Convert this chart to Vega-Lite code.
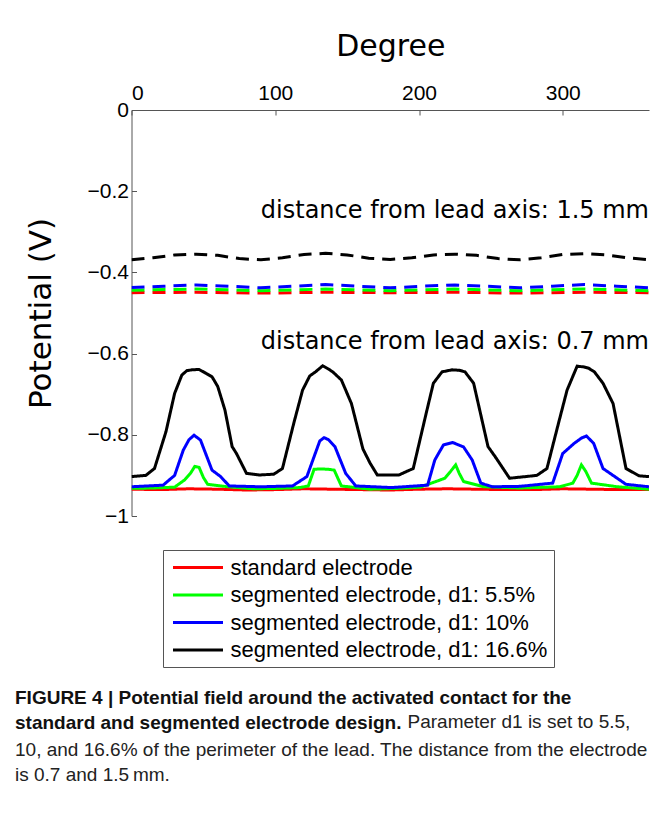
{
  "$schema": "https://vega.github.io/schema/vega-lite/v6.json",
  "autosize": "none",
  "width": 517.5,
  "height": 406,
  "padding": {"left": 131.5, "top": 110, "right": 12, "bottom": 300},
  "background": "white",
  "title": {
    "text": ["FIGURE 4 | Potential field around the activated contact for the", "standard and segmented electrode design."],
    "subtitle": ["10, and 16.6% of the perimeter of the lead. The distance from the electrode", "is 0.7 and 1.5\u2009mm."],
    "orient": "bottom",
    "anchor": "start",
    "frame": "group",
    "offset": -43,
    "dx": -116.5,
    "font": "Liberation Sans",
    "fontSize": 19,
    "fontWeight": "bold",
    "color": "#111",
    "lineHeight": 25.5,
    "subtitleFont": "Liberation Sans",
    "subtitleFontSize": 19,
    "subtitleColor": "#222",
    "subtitleLineHeight": 25.5,
    "subtitlePadding": 7.5
  },
  "datasets": {
    "curves": [
      {"degree": 0, "potential": -0.450, "series": "standard electrode", "distance": "1.5 mm"},
      {"degree": 45, "potential": -0.449, "series": "standard electrode", "distance": "1.5 mm"},
      {"degree": 90, "potential": -0.451, "series": "standard electrode", "distance": "1.5 mm"},
      {"degree": 135, "potential": -0.449, "series": "standard electrode", "distance": "1.5 mm"},
      {"degree": 180, "potential": -0.450, "series": "standard electrode", "distance": "1.5 mm"},
      {"degree": 225, "potential": -0.449, "series": "standard electrode", "distance": "1.5 mm"},
      {"degree": 270, "potential": -0.451, "series": "standard electrode", "distance": "1.5 mm"},
      {"degree": 315, "potential": -0.449, "series": "standard electrode", "distance": "1.5 mm"},
      {"degree": 360, "potential": -0.450, "series": "standard electrode", "distance": "1.5 mm"},

      {"degree": 0, "potential": -0.934, "series": "standard electrode", "distance": "0.7 mm"},
      {"degree": 20, "potential": -0.935, "series": "standard electrode", "distance": "0.7 mm"},
      {"degree": 40, "potential": -0.933, "series": "standard electrode", "distance": "0.7 mm"},
      {"degree": 60, "potential": -0.934, "series": "standard electrode", "distance": "0.7 mm"},
      {"degree": 80, "potential": -0.936, "series": "standard electrode", "distance": "0.7 mm"},
      {"degree": 100, "potential": -0.935, "series": "standard electrode", "distance": "0.7 mm"},
      {"degree": 120, "potential": -0.933, "series": "standard electrode", "distance": "0.7 mm"},
      {"degree": 140, "potential": -0.934, "series": "standard electrode", "distance": "0.7 mm"},
      {"degree": 160, "potential": -0.935, "series": "standard electrode", "distance": "0.7 mm"},
      {"degree": 180, "potential": -0.936, "series": "standard electrode", "distance": "0.7 mm"},
      {"degree": 200, "potential": -0.934, "series": "standard electrode", "distance": "0.7 mm"},
      {"degree": 220, "potential": -0.933, "series": "standard electrode", "distance": "0.7 mm"},
      {"degree": 240, "potential": -0.934, "series": "standard electrode", "distance": "0.7 mm"},
      {"degree": 260, "potential": -0.935, "series": "standard electrode", "distance": "0.7 mm"},
      {"degree": 280, "potential": -0.935, "series": "standard electrode", "distance": "0.7 mm"},
      {"degree": 300, "potential": -0.933, "series": "standard electrode", "distance": "0.7 mm"},
      {"degree": 320, "potential": -0.934, "series": "standard electrode", "distance": "0.7 mm"},
      {"degree": 340, "potential": -0.935, "series": "standard electrode", "distance": "0.7 mm"},
      {"degree": 360, "potential": -0.935, "series": "standard electrode", "distance": "0.7 mm"},

      {"degree": 0, "potential": -0.444, "series": "segmented electrode, d1: 5.5%", "distance": "1.5 mm"},
      {"degree": 45, "potential": -0.441, "series": "segmented electrode, d1: 5.5%", "distance": "1.5 mm"},
      {"degree": 90, "potential": -0.445, "series": "segmented electrode, d1: 5.5%", "distance": "1.5 mm"},
      {"degree": 135, "potential": -0.441, "series": "segmented electrode, d1: 5.5%", "distance": "1.5 mm"},
      {"degree": 180, "potential": -0.445, "series": "segmented electrode, d1: 5.5%", "distance": "1.5 mm"},
      {"degree": 225, "potential": -0.441, "series": "segmented electrode, d1: 5.5%", "distance": "1.5 mm"},
      {"degree": 270, "potential": -0.445, "series": "segmented electrode, d1: 5.5%", "distance": "1.5 mm"},
      {"degree": 315, "potential": -0.441, "series": "segmented electrode, d1: 5.5%", "distance": "1.5 mm"},
      {"degree": 360, "potential": -0.445, "series": "segmented electrode, d1: 5.5%", "distance": "1.5 mm"},

      {"degree": 0, "potential": -0.932, "series": "segmented electrode, d1: 5.5%", "distance": "0.7 mm"},
      {"degree": 15, "potential": -0.931, "series": "segmented electrode, d1: 5.5%", "distance": "0.7 mm"},
      {"degree": 30, "potential": -0.929, "series": "segmented electrode, d1: 5.5%", "distance": "0.7 mm"},
      {"degree": 37, "potential": -0.911, "series": "segmented electrode, d1: 5.5%", "distance": "0.7 mm"},
      {"degree": 41, "potential": -0.895, "series": "segmented electrode, d1: 5.5%", "distance": "0.7 mm"},
      {"degree": 44, "potential": -0.878, "series": "segmented electrode, d1: 5.5%", "distance": "0.7 mm"},
      {"degree": 47, "potential": -0.880, "series": "segmented electrode, d1: 5.5%", "distance": "0.7 mm"},
      {"degree": 50, "potential": -0.905, "series": "segmented electrode, d1: 5.5%", "distance": "0.7 mm"},
      {"degree": 53, "potential": -0.922, "series": "segmented electrode, d1: 5.5%", "distance": "0.7 mm"},
      {"degree": 67, "potential": -0.928, "series": "segmented electrode, d1: 5.5%", "distance": "0.7 mm"},
      {"degree": 85, "potential": -0.933, "series": "segmented electrode, d1: 5.5%", "distance": "0.7 mm"},
      {"degree": 100, "potential": -0.932, "series": "segmented electrode, d1: 5.5%", "distance": "0.7 mm"},
      {"degree": 117, "potential": -0.930, "series": "segmented electrode, d1: 5.5%", "distance": "0.7 mm"},
      {"degree": 123, "potential": -0.926, "series": "segmented electrode, d1: 5.5%", "distance": "0.7 mm"},
      {"degree": 127, "potential": -0.885, "series": "segmented electrode, d1: 5.5%", "distance": "0.7 mm"},
      {"degree": 132, "potential": -0.884, "series": "segmented electrode, d1: 5.5%", "distance": "0.7 mm"},
      {"degree": 137, "potential": -0.885, "series": "segmented electrode, d1: 5.5%", "distance": "0.7 mm"},
      {"degree": 141, "potential": -0.887, "series": "segmented electrode, d1: 5.5%", "distance": "0.7 mm"},
      {"degree": 146, "potential": -0.926, "series": "segmented electrode, d1: 5.5%", "distance": "0.7 mm"},
      {"degree": 166, "potential": -0.934, "series": "segmented electrode, d1: 5.5%", "distance": "0.7 mm"},
      {"degree": 185, "potential": -0.932, "series": "segmented electrode, d1: 5.5%", "distance": "0.7 mm"},
      {"degree": 201, "potential": -0.929, "series": "segmented electrode, d1: 5.5%", "distance": "0.7 mm"},
      {"degree": 218, "potential": -0.907, "series": "segmented electrode, d1: 5.5%", "distance": "0.7 mm"},
      {"degree": 222, "potential": -0.890, "series": "segmented electrode, d1: 5.5%", "distance": "0.7 mm"},
      {"degree": 225.5, "potential": -0.874, "series": "segmented electrode, d1: 5.5%", "distance": "0.7 mm"},
      {"degree": 228, "potential": -0.895, "series": "segmented electrode, d1: 5.5%", "distance": "0.7 mm"},
      {"degree": 231, "potential": -0.915, "series": "segmented electrode, d1: 5.5%", "distance": "0.7 mm"},
      {"degree": 245, "potential": -0.928, "series": "segmented electrode, d1: 5.5%", "distance": "0.7 mm"},
      {"degree": 270, "potential": -0.931, "series": "segmented electrode, d1: 5.5%", "distance": "0.7 mm"},
      {"degree": 298, "potential": -0.928, "series": "segmented electrode, d1: 5.5%", "distance": "0.7 mm"},
      {"degree": 307, "potential": -0.919, "series": "segmented electrode, d1: 5.5%", "distance": "0.7 mm"},
      {"degree": 310, "potential": -0.900, "series": "segmented electrode, d1: 5.5%", "distance": "0.7 mm"},
      {"degree": 313, "potential": -0.874, "series": "segmented electrode, d1: 5.5%", "distance": "0.7 mm"},
      {"degree": 316, "potential": -0.890, "series": "segmented electrode, d1: 5.5%", "distance": "0.7 mm"},
      {"degree": 320, "potential": -0.919, "series": "segmented electrode, d1: 5.5%", "distance": "0.7 mm"},
      {"degree": 338, "potential": -0.928, "series": "segmented electrode, d1: 5.5%", "distance": "0.7 mm"},
      {"degree": 360, "potential": -0.934, "series": "segmented electrode, d1: 5.5%", "distance": "0.7 mm"},

      {"degree": 0, "potential": -0.437, "series": "segmented electrode, d1: 10%", "distance": "1.5 mm"},
      {"degree": 22.5, "potential": -0.434, "series": "segmented electrode, d1: 10%", "distance": "1.5 mm"},
      {"degree": 45, "potential": -0.431, "series": "segmented electrode, d1: 10%", "distance": "1.5 mm"},
      {"degree": 67.5, "potential": -0.434, "series": "segmented electrode, d1: 10%", "distance": "1.5 mm"},
      {"degree": 90, "potential": -0.438, "series": "segmented electrode, d1: 10%", "distance": "1.5 mm"},
      {"degree": 112.5, "potential": -0.434, "series": "segmented electrode, d1: 10%", "distance": "1.5 mm"},
      {"degree": 135, "potential": -0.430, "series": "segmented electrode, d1: 10%", "distance": "1.5 mm"},
      {"degree": 157.5, "potential": -0.434, "series": "segmented electrode, d1: 10%", "distance": "1.5 mm"},
      {"degree": 180, "potential": -0.438, "series": "segmented electrode, d1: 10%", "distance": "1.5 mm"},
      {"degree": 202.5, "potential": -0.434, "series": "segmented electrode, d1: 10%", "distance": "1.5 mm"},
      {"degree": 225, "potential": -0.431, "series": "segmented electrode, d1: 10%", "distance": "1.5 mm"},
      {"degree": 247.5, "potential": -0.434, "series": "segmented electrode, d1: 10%", "distance": "1.5 mm"},
      {"degree": 270, "potential": -0.438, "series": "segmented electrode, d1: 10%", "distance": "1.5 mm"},
      {"degree": 292.5, "potential": -0.434, "series": "segmented electrode, d1: 10%", "distance": "1.5 mm"},
      {"degree": 315, "potential": -0.430, "series": "segmented electrode, d1: 10%", "distance": "1.5 mm"},
      {"degree": 337.5, "potential": -0.434, "series": "segmented electrode, d1: 10%", "distance": "1.5 mm"},
      {"degree": 360, "potential": -0.438, "series": "segmented electrode, d1: 10%", "distance": "1.5 mm"},

      {"degree": 0, "potential": -0.928, "series": "segmented electrode, d1: 10%", "distance": "0.7 mm"},
      {"degree": 22, "potential": -0.924, "series": "segmented electrode, d1: 10%", "distance": "0.7 mm"},
      {"degree": 30, "potential": -0.900, "series": "segmented electrode, d1: 10%", "distance": "0.7 mm"},
      {"degree": 36, "potential": -0.838, "series": "segmented electrode, d1: 10%", "distance": "0.7 mm"},
      {"degree": 40, "potential": -0.812, "series": "segmented electrode, d1: 10%", "distance": "0.7 mm"},
      {"degree": 43.5, "potential": -0.801, "series": "segmented electrode, d1: 10%", "distance": "0.7 mm"},
      {"degree": 48, "potential": -0.813, "series": "segmented electrode, d1: 10%", "distance": "0.7 mm"},
      {"degree": 52, "potential": -0.850, "series": "segmented electrode, d1: 10%", "distance": "0.7 mm"},
      {"degree": 56, "potential": -0.887, "series": "segmented electrode, d1: 10%", "distance": "0.7 mm"},
      {"degree": 62, "potential": -0.903, "series": "segmented electrode, d1: 10%", "distance": "0.7 mm"},
      {"degree": 68, "potential": -0.926, "series": "segmented electrode, d1: 10%", "distance": "0.7 mm"},
      {"degree": 90, "potential": -0.928, "series": "segmented electrode, d1: 10%", "distance": "0.7 mm"},
      {"degree": 112, "potential": -0.926, "series": "segmented electrode, d1: 10%", "distance": "0.7 mm"},
      {"degree": 122, "potential": -0.903, "series": "segmented electrode, d1: 10%", "distance": "0.7 mm"},
      {"degree": 127, "potential": -0.854, "series": "segmented electrode, d1: 10%", "distance": "0.7 mm"},
      {"degree": 131, "potential": -0.815, "series": "segmented electrode, d1: 10%", "distance": "0.7 mm"},
      {"degree": 134, "potential": -0.807, "series": "segmented electrode, d1: 10%", "distance": "0.7 mm"},
      {"degree": 137, "potential": -0.812, "series": "segmented electrode, d1: 10%", "distance": "0.7 mm"},
      {"degree": 141.5, "potential": -0.829, "series": "segmented electrode, d1: 10%", "distance": "0.7 mm"},
      {"degree": 149, "potential": -0.895, "series": "segmented electrode, d1: 10%", "distance": "0.7 mm"},
      {"degree": 156, "potential": -0.926, "series": "segmented electrode, d1: 10%", "distance": "0.7 mm"},
      {"degree": 181, "potential": -0.930, "series": "segmented electrode, d1: 10%", "distance": "0.7 mm"},
      {"degree": 206, "potential": -0.924, "series": "segmented electrode, d1: 10%", "distance": "0.7 mm"},
      {"degree": 211, "potential": -0.862, "series": "segmented electrode, d1: 10%", "distance": "0.7 mm"},
      {"degree": 217, "potential": -0.825, "series": "segmented electrode, d1: 10%", "distance": "0.7 mm"},
      {"degree": 223.5, "potential": -0.819, "series": "segmented electrode, d1: 10%", "distance": "0.7 mm"},
      {"degree": 231, "potential": -0.830, "series": "segmented electrode, d1: 10%", "distance": "0.7 mm"},
      {"degree": 237, "potential": -0.862, "series": "segmented electrode, d1: 10%", "distance": "0.7 mm"},
      {"degree": 243, "potential": -0.919, "series": "segmented electrode, d1: 10%", "distance": "0.7 mm"},
      {"degree": 251, "potential": -0.928, "series": "segmented electrode, d1: 10%", "distance": "0.7 mm"},
      {"degree": 270, "potential": -0.927, "series": "segmented electrode, d1: 10%", "distance": "0.7 mm"},
      {"degree": 293, "potential": -0.919, "series": "segmented electrode, d1: 10%", "distance": "0.7 mm"},
      {"degree": 300, "potential": -0.846, "series": "segmented electrode, d1: 10%", "distance": "0.7 mm"},
      {"degree": 308, "potential": -0.821, "series": "segmented electrode, d1: 10%", "distance": "0.7 mm"},
      {"degree": 313, "potential": -0.808, "series": "segmented electrode, d1: 10%", "distance": "0.7 mm"},
      {"degree": 316.5, "potential": -0.803, "series": "segmented electrode, d1: 10%", "distance": "0.7 mm"},
      {"degree": 321.5, "potential": -0.821, "series": "segmented electrode, d1: 10%", "distance": "0.7 mm"},
      {"degree": 328, "potential": -0.883, "series": "segmented electrode, d1: 10%", "distance": "0.7 mm"},
      {"degree": 335, "potential": -0.900, "series": "segmented electrode, d1: 10%", "distance": "0.7 mm"},
      {"degree": 344, "potential": -0.922, "series": "segmented electrode, d1: 10%", "distance": "0.7 mm"},
      {"degree": 360, "potential": -0.928, "series": "segmented electrode, d1: 10%", "distance": "0.7 mm"},

      {"degree": 0, "potential": -0.369, "series": "segmented electrode, d1: 16.6%", "distance": "1.5 mm"},
      {"degree": 15, "potential": -0.364, "series": "segmented electrode, d1: 16.6%", "distance": "1.5 mm"},
      {"degree": 30, "potential": -0.357, "series": "segmented electrode, d1: 16.6%", "distance": "1.5 mm"},
      {"degree": 45, "potential": -0.355, "series": "segmented electrode, d1: 16.6%", "distance": "1.5 mm"},
      {"degree": 60, "potential": -0.358, "series": "segmented electrode, d1: 16.6%", "distance": "1.5 mm"},
      {"degree": 75, "potential": -0.366, "series": "segmented electrode, d1: 16.6%", "distance": "1.5 mm"},
      {"degree": 90, "potential": -0.369, "series": "segmented electrode, d1: 16.6%", "distance": "1.5 mm"},
      {"degree": 105, "potential": -0.364, "series": "segmented electrode, d1: 16.6%", "distance": "1.5 mm"},
      {"degree": 120, "potential": -0.356, "series": "segmented electrode, d1: 16.6%", "distance": "1.5 mm"},
      {"degree": 135, "potential": -0.353, "series": "segmented electrode, d1: 16.6%", "distance": "1.5 mm"},
      {"degree": 150, "potential": -0.357, "series": "segmented electrode, d1: 16.6%", "distance": "1.5 mm"},
      {"degree": 165, "potential": -0.365, "series": "segmented electrode, d1: 16.6%", "distance": "1.5 mm"},
      {"degree": 180, "potential": -0.368, "series": "segmented electrode, d1: 16.6%", "distance": "1.5 mm"},
      {"degree": 195, "potential": -0.364, "series": "segmented electrode, d1: 16.6%", "distance": "1.5 mm"},
      {"degree": 210, "potential": -0.357, "series": "segmented electrode, d1: 16.6%", "distance": "1.5 mm"},
      {"degree": 225, "potential": -0.355, "series": "segmented electrode, d1: 16.6%", "distance": "1.5 mm"},
      {"degree": 240, "potential": -0.358, "series": "segmented electrode, d1: 16.6%", "distance": "1.5 mm"},
      {"degree": 255, "potential": -0.366, "series": "segmented electrode, d1: 16.6%", "distance": "1.5 mm"},
      {"degree": 270, "potential": -0.369, "series": "segmented electrode, d1: 16.6%", "distance": "1.5 mm"},
      {"degree": 285, "potential": -0.364, "series": "segmented electrode, d1: 16.6%", "distance": "1.5 mm"},
      {"degree": 300, "potential": -0.356, "series": "segmented electrode, d1: 16.6%", "distance": "1.5 mm"},
      {"degree": 315, "potential": -0.354, "series": "segmented electrode, d1: 16.6%", "distance": "1.5 mm"},
      {"degree": 330, "potential": -0.357, "series": "segmented electrode, d1: 16.6%", "distance": "1.5 mm"},
      {"degree": 345, "potential": -0.364, "series": "segmented electrode, d1: 16.6%", "distance": "1.5 mm"},
      {"degree": 360, "potential": -0.369, "series": "segmented electrode, d1: 16.6%", "distance": "1.5 mm"},

      {"degree": 0, "potential": -0.903, "series": "segmented electrode, d1: 16.6%", "distance": "0.7 mm"},
      {"degree": 10, "potential": -0.900, "series": "segmented electrode, d1: 16.6%", "distance": "0.7 mm"},
      {"degree": 16, "potential": -0.883, "series": "segmented electrode, d1: 16.6%", "distance": "0.7 mm"},
      {"degree": 24, "potential": -0.792, "series": "segmented electrode, d1: 16.6%", "distance": "0.7 mm"},
      {"degree": 30, "potential": -0.698, "series": "segmented electrode, d1: 16.6%", "distance": "0.7 mm"},
      {"degree": 35, "potential": -0.653, "series": "segmented electrode, d1: 16.6%", "distance": "0.7 mm"},
      {"degree": 38.5, "potential": -0.642, "series": "segmented electrode, d1: 16.6%", "distance": "0.7 mm"},
      {"degree": 42, "potential": -0.640, "series": "segmented electrode, d1: 16.6%", "distance": "0.7 mm"},
      {"degree": 47, "potential": -0.639, "series": "segmented electrode, d1: 16.6%", "distance": "0.7 mm"},
      {"degree": 52, "potential": -0.649, "series": "segmented electrode, d1: 16.6%", "distance": "0.7 mm"},
      {"degree": 56, "potential": -0.657, "series": "segmented electrode, d1: 16.6%", "distance": "0.7 mm"},
      {"degree": 60, "potential": -0.681, "series": "segmented electrode, d1: 16.6%", "distance": "0.7 mm"},
      {"degree": 65, "potential": -0.739, "series": "segmented electrode, d1: 16.6%", "distance": "0.7 mm"},
      {"degree": 70, "potential": -0.829, "series": "segmented electrode, d1: 16.6%", "distance": "0.7 mm"},
      {"degree": 73, "potential": -0.846, "series": "segmented electrode, d1: 16.6%", "distance": "0.7 mm"},
      {"degree": 80, "potential": -0.895, "series": "segmented electrode, d1: 16.6%", "distance": "0.7 mm"},
      {"degree": 89, "potential": -0.899, "series": "segmented electrode, d1: 16.6%", "distance": "0.7 mm"},
      {"degree": 99, "potential": -0.897, "series": "segmented electrode, d1: 16.6%", "distance": "0.7 mm"},
      {"degree": 105, "potential": -0.883, "series": "segmented electrode, d1: 16.6%", "distance": "0.7 mm"},
      {"degree": 113, "potential": -0.770, "series": "segmented electrode, d1: 16.6%", "distance": "0.7 mm"},
      {"degree": 119, "potential": -0.690, "series": "segmented electrode, d1: 16.6%", "distance": "0.7 mm"},
      {"degree": 124, "potential": -0.655, "series": "segmented electrode, d1: 16.6%", "distance": "0.7 mm"},
      {"degree": 128, "potential": -0.645, "series": "segmented electrode, d1: 16.6%", "distance": "0.7 mm"},
      {"degree": 133, "potential": -0.630, "series": "segmented electrode, d1: 16.6%", "distance": "0.7 mm"},
      {"degree": 137, "potential": -0.638, "series": "segmented electrode, d1: 16.6%", "distance": "0.7 mm"},
      {"degree": 140, "potential": -0.645, "series": "segmented electrode, d1: 16.6%", "distance": "0.7 mm"},
      {"degree": 146, "potential": -0.665, "series": "segmented electrode, d1: 16.6%", "distance": "0.7 mm"},
      {"degree": 153, "potential": -0.723, "series": "segmented electrode, d1: 16.6%", "distance": "0.7 mm"},
      {"degree": 161, "potential": -0.835, "series": "segmented electrode, d1: 16.6%", "distance": "0.7 mm"},
      {"degree": 166, "potential": -0.870, "series": "segmented electrode, d1: 16.6%", "distance": "0.7 mm"},
      {"degree": 171, "potential": -0.899, "series": "segmented electrode, d1: 16.6%", "distance": "0.7 mm"},
      {"degree": 186, "potential": -0.899, "series": "segmented electrode, d1: 16.6%", "distance": "0.7 mm"},
      {"degree": 196, "potential": -0.883, "series": "segmented electrode, d1: 16.6%", "distance": "0.7 mm"},
      {"degree": 205, "potential": -0.747, "series": "segmented electrode, d1: 16.6%", "distance": "0.7 mm"},
      {"degree": 210, "potential": -0.673, "series": "segmented electrode, d1: 16.6%", "distance": "0.7 mm"},
      {"degree": 216, "potential": -0.645, "series": "segmented electrode, d1: 16.6%", "distance": "0.7 mm"},
      {"degree": 223, "potential": -0.640, "series": "segmented electrode, d1: 16.6%", "distance": "0.7 mm"},
      {"degree": 228, "potential": -0.641, "series": "segmented electrode, d1: 16.6%", "distance": "0.7 mm"},
      {"degree": 232, "potential": -0.645, "series": "segmented electrode, d1: 16.6%", "distance": "0.7 mm"},
      {"degree": 238, "potential": -0.673, "series": "segmented electrode, d1: 16.6%", "distance": "0.7 mm"},
      {"degree": 248, "potential": -0.829, "series": "segmented electrode, d1: 16.6%", "distance": "0.7 mm"},
      {"degree": 253, "potential": -0.854, "series": "segmented electrode, d1: 16.6%", "distance": "0.7 mm"},
      {"degree": 263, "potential": -0.907, "series": "segmented electrode, d1: 16.6%", "distance": "0.7 mm"},
      {"degree": 282, "potential": -0.900, "series": "segmented electrode, d1: 16.6%", "distance": "0.7 mm"},
      {"degree": 289, "potential": -0.883, "series": "segmented electrode, d1: 16.6%", "distance": "0.7 mm"},
      {"degree": 297, "potential": -0.772, "series": "segmented electrode, d1: 16.6%", "distance": "0.7 mm"},
      {"degree": 303, "potential": -0.690, "series": "segmented electrode, d1: 16.6%", "distance": "0.7 mm"},
      {"degree": 310, "potential": -0.631, "series": "segmented electrode, d1: 16.6%", "distance": "0.7 mm"},
      {"degree": 315, "potential": -0.633, "series": "segmented electrode, d1: 16.6%", "distance": "0.7 mm"},
      {"degree": 318, "potential": -0.636, "series": "segmented electrode, d1: 16.6%", "distance": "0.7 mm"},
      {"degree": 322, "potential": -0.645, "series": "segmented electrode, d1: 16.6%", "distance": "0.7 mm"},
      {"degree": 328, "potential": -0.673, "series": "segmented electrode, d1: 16.6%", "distance": "0.7 mm"},
      {"degree": 335, "potential": -0.723, "series": "segmented electrode, d1: 16.6%", "distance": "0.7 mm"},
      {"degree": 344, "potential": -0.883, "series": "segmented electrode, d1: 16.6%", "distance": "0.7 mm"},
      {"degree": 353, "potential": -0.901, "series": "segmented electrode, d1: 16.6%", "distance": "0.7 mm"},
      {"degree": 360, "potential": -0.903, "series": "segmented electrode, d1: 16.6%", "distance": "0.7 mm"}
    ]
  },
  "layer": [
    {
      "data": {"name": "curves"},
      "mark": {"type": "line", "strokeWidth": 3, "clip": true},
      "encoding": {
        "x": {
          "field": "degree", "type": "quantitative",
          "scale": {"domain": [0, 360], "nice": false, "zero": false},
          "axis": {
            "orient": "top", "title": "Degree", "values": [0, 100, 200, 300],
            "grid": false, "tickSize": -5, "labelPadding": 12,
            "titleFont": "DejaVu Sans", "titleFontSize": 30, "titleFontWeight": "normal",
            "titlePadding": 21
          }
        },
        "y": {
          "field": "potential", "type": "quantitative",
          "scale": {"domain": [-1, 0], "nice": false, "zero": false},
          "axis": {
            "orient": "left", "title": "Potential (V)", "values": [-1, -0.8, -0.6, -0.4, -0.2, 0],
            "format": ".1~f", "grid": false, "tickSize": -5, "labelPadding": 8,
            "titleFont": "DejaVu Sans", "titleFontSize": 31, "titleFontWeight": "normal",
            "titlePadding": 30
          }
        },
        "color": {
          "field": "series", "type": "nominal",
          "scale": {
            "domain": ["standard electrode", "segmented electrode, d1: 5.5%", "segmented electrode, d1: 10%", "segmented electrode, d1: 16.6%"],
            "range": ["#ff0000", "#00ff00", "#0000ff", "#000000"]
          },
          "legend": {
            "title": null, "orient": "none", "legendX": 31.5, "legendY": 440,
            "symbolType": "M-2.5,0H2.5", "symbolSize": 400, "symbolStrokeWidth": 3,
            "symbolOffset": 17.5,
            "labelFont": "Liberation Sans", "labelFontSize": 22, "labelColor": "#000",
            "labelOffset": 21, "labelLimit": 500,
            "strokeColor": "#555", "fillColor": "white", "padding": 6, "rowPadding": 4.5
          }
        },
        "strokeDash": {
          "field": "distance", "type": "nominal",
          "scale": {"domain": ["0.7 mm", "1.5 mm"], "range": [[1, 0], [13, 8]]},
          "legend": null
        },
        "order": {"field": "degree", "type": "quantitative"}
      }
    },
    {
      "data": {"values": [{}]},
      "mark": {"type": "text", "align": "right", "baseline": "alphabetic", "font": "DejaVu Sans", "fontSize": 24, "color": "black"},
      "encoding": {
        "x": {"datum": 360, "type": "quantitative"},
        "y": {"datum": -0.267, "type": "quantitative"},
        "text": {"value": "distance from lead axis: 1.5 mm"}
      }
    },
    {
      "data": {"values": [{}]},
      "mark": {"type": "text", "align": "right", "baseline": "alphabetic", "font": "DejaVu Sans", "fontSize": 24, "color": "black"},
      "encoding": {
        "x": {"datum": 360, "type": "quantitative"},
        "y": {"datum": -0.589, "type": "quantitative"},
        "text": {"value": "distance from lead axis: 0.7 mm"}
      }
    },
    {
      "data": {"values": [{}]},
      "mark": {"type": "text", "align": "left", "baseline": "middle", "font": "Liberation Sans", "fontSize": 19, "color": "#222", "clip": false},
      "encoding": {
        "x": {"datum": 192, "type": "quantitative"},
        "y": {"datum": -1.507, "type": "quantitative"},
        "text": {"value": "Parameter d1 is set to 5.5,"}
      }
    }
  ],
  "config": {
    "view": {"stroke": null},
    "axis": {
      "labelFont": "Liberation Sans", "labelFontSize": 21, "labelColor": "#000",
      "titleColor": "#000", "domainColor": "#555", "tickColor": "#555",
      "labelAngle": 0
    }
  }
}
